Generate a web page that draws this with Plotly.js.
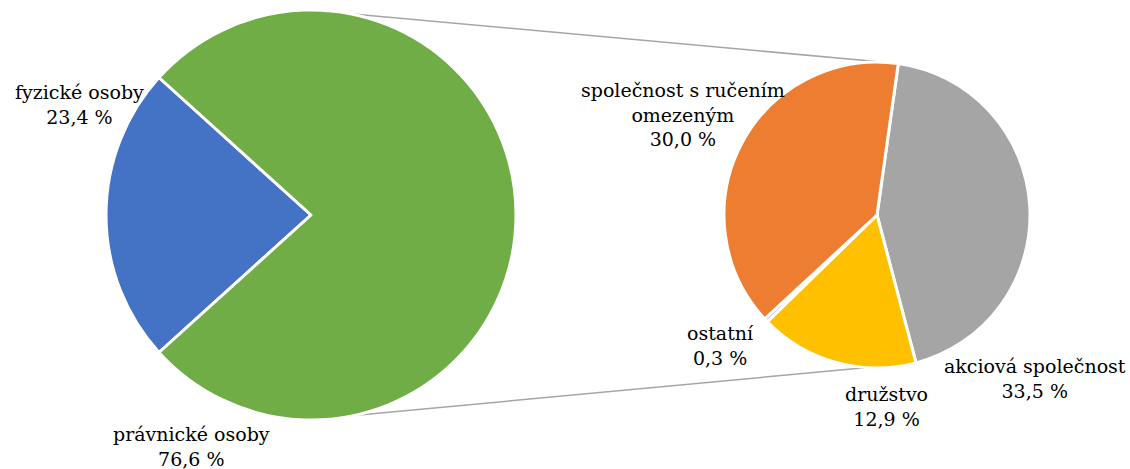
<!DOCTYPE html>
<html>
<head>
<meta charset="utf-8">
<script src="https://cdn.plot.ly/plotly-3.0.1.min.js"></script>
<style>html,body{margin:0;padding:0;background:#fff;}#chart{width:1130px;height:469px;}</style>
</head>
<body>
<div id="chart"></div>
<script>
// Main pie
const mainLabels = ["fyzické osoby", "právnické osoby"];
const mainValues = [23.4, 76.6];
const mainColors = ["#4472C4", "#70AD47"];

// Breakdown of "právnické osoby"
const subLabels = ["akciová společnost", "družstvo", "ostatní", "společnost s ručením omezeným"];
const subDisplay = ["akciová společnost", "družstvo", "ostatní", "společnost s ručením<br>omezeným"];
const subValues = [33.5, 12.9, 0.3, 30.0];
const subColors = ["#A5A5A5", "#FFC000", "#5B9BD5", "#ED7D31"];

const W = 1130, H = 469;
const fmt = v => v.toFixed(1).replace('.', ',') + ' %';

// pie geometry (pixels)
const L = {cx: 311, cy: 215, r: 205};
const R = {cx: 877, cy: 215, r: 153};
const dom = p => ({x: [(p.cx - p.r) / W, (p.cx + p.r) / W], y: [1 - (p.cy + p.r) / H, 1 - (p.cy - p.r) / H]});

const mainTotal = mainValues.reduce((a, b) => a + b, 0);
const mainRot = 270 - (mainValues[0] / mainTotal) * 180;
const subTotal = subValues.reduce((a, b) => a + b, 0);
const subRot = 8;

const traces = [
  {type: 'pie', labels: mainLabels, values: mainValues, sort: false, direction: 'clockwise',
   rotation: mainRot, domain: dom(L), textinfo: 'none', hoverinfo: 'label+value',
   marker: {colors: mainColors, line: {color: '#ffffff', width: 3}}},
  {type: 'pie', labels: subLabels, values: subValues, sort: false, direction: 'clockwise',
   rotation: subRot, domain: dom(R), textinfo: 'none', hoverinfo: 'label+value',
   marker: {colors: subColors, line: {color: '#ffffff', width: 3}}}
];

// connector lines: from the main pie to the edges of the breakdown pie
const gStart = subRot;
const gEnd = subRot + subValues[0] / subTotal * 360;
const pt = (p, deg) => {
  const a = deg * Math.PI / 180;
  return [(p.cx + p.r * Math.sin(a)) / W, 1 - (p.cy - p.r * Math.cos(a)) / H];
};
const lt = pt(L, 11), rt = pt(R, gStart);
const lb = pt(L, 168), rb = pt(R, gEnd);
const shapes = [
  {type: 'line', xref: 'paper', yref: 'paper', x0: lt[0], y0: lt[1], x1: rt[0], y1: rt[1], line: {color: '#A6A6A6', width: 1.5}, layer: 'below'},
  {type: 'line', xref: 'paper', yref: 'paper', x0: lb[0], y0: lb[1], x1: rb[0], y1: rb[1], line: {color: '#A6A6A6', width: 1.5}, layer: 'below'}
];

// label positions (pixel centres)
const mainPos = [[79, 104], [191, 446]];
const subPos = [[1035, 378], [886, 406], [720, 345], [683, 115]];
const font = {family: "DejaVu Serif", size: 19, color: '#000'};
const annotations = [];
const addAnn = (pos, text) => annotations.push({
  xref: 'paper', yref: 'paper', x: pos[0] / W, y: 1 - pos[1] / H, xanchor: 'center', yanchor: 'middle',
  text: text, showarrow: false, font: font, align: 'center'});
mainLabels.forEach((l, i) => addAnn(mainPos[i], l + '<br>' + fmt(mainValues[i])));
subDisplay.forEach((l, i) => addAnn(subPos[i], l + '<br>' + fmt(subValues[i])));

Plotly.newPlot('chart', traces, {
  width: W, height: H, margin: {l: 0, r: 0, t: 0, b: 0},
  showlegend: false, paper_bgcolor: '#fff', shapes: shapes, annotations: annotations
}, {displayModeBar: false, staticPlot: true});
</script>
</body>
</html>
